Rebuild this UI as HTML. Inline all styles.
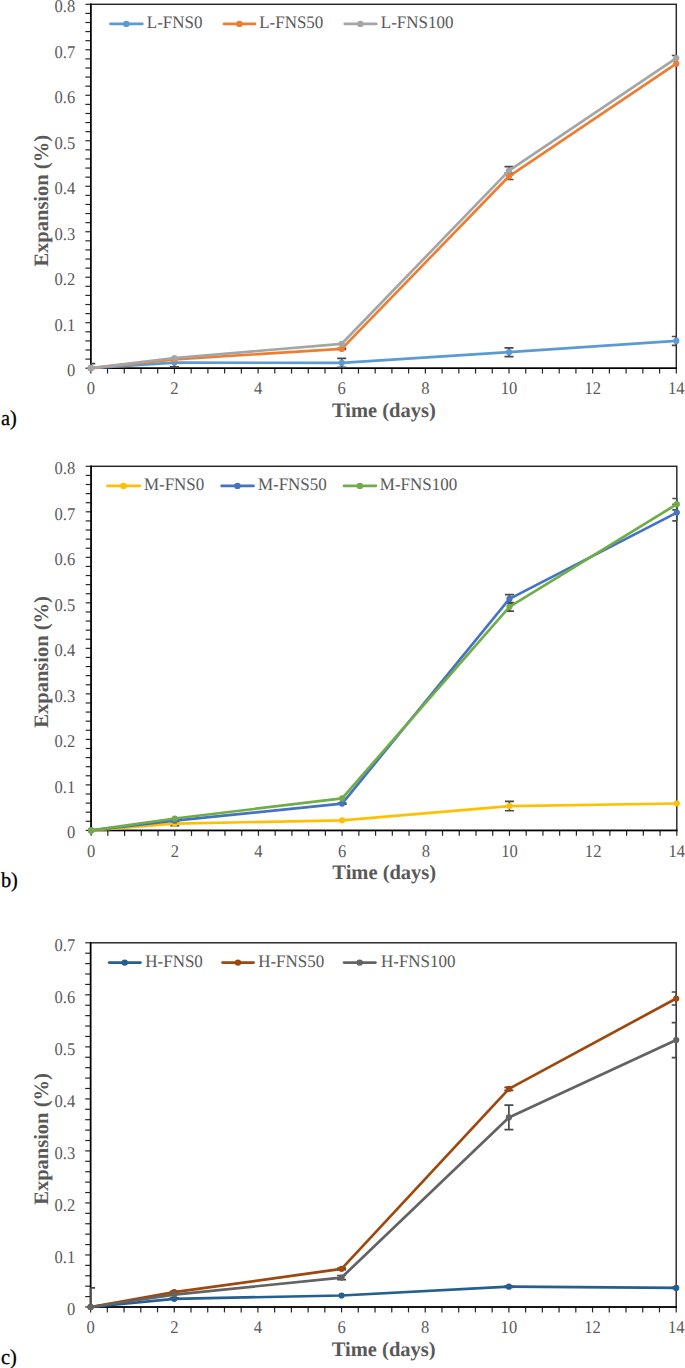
<!DOCTYPE html>
<html><head><meta charset="utf-8"><style>
html,body{margin:0;padding:0;background:#fff;}
body{width:685px;height:1368px;overflow:hidden;}
svg{display:block;font-family:"Liberation Serif", serif;text-rendering:geometricPrecision;}
</style></head><body>
<svg width="685" height="1368" viewBox="0 0 685 1368">
<rect width="685" height="1368" fill="#fff"/>
<line x1="85.4" y1="368.2" x2="90.8" y2="368.2" stroke="#262626" stroke-width="1.2"/>
<line x1="85.4" y1="359.1" x2="90.8" y2="359.1" stroke="#262626" stroke-width="1.2"/>
<line x1="85.4" y1="350" x2="90.8" y2="350" stroke="#262626" stroke-width="1.2"/>
<line x1="85.4" y1="340.91" x2="90.8" y2="340.91" stroke="#262626" stroke-width="1.2"/>
<line x1="85.4" y1="331.81" x2="90.8" y2="331.81" stroke="#262626" stroke-width="1.2"/>
<line x1="85.4" y1="322.71" x2="90.8" y2="322.71" stroke="#262626" stroke-width="1.2"/>
<line x1="85.4" y1="313.62" x2="90.8" y2="313.62" stroke="#262626" stroke-width="1.2"/>
<line x1="85.4" y1="304.52" x2="90.8" y2="304.52" stroke="#262626" stroke-width="1.2"/>
<line x1="85.4" y1="295.42" x2="90.8" y2="295.42" stroke="#262626" stroke-width="1.2"/>
<line x1="85.4" y1="286.32" x2="90.8" y2="286.32" stroke="#262626" stroke-width="1.2"/>
<line x1="85.4" y1="277.23" x2="90.8" y2="277.23" stroke="#262626" stroke-width="1.2"/>
<line x1="85.4" y1="268.13" x2="90.8" y2="268.13" stroke="#262626" stroke-width="1.2"/>
<line x1="85.4" y1="259.03" x2="90.8" y2="259.03" stroke="#262626" stroke-width="1.2"/>
<line x1="85.4" y1="249.93" x2="90.8" y2="249.93" stroke="#262626" stroke-width="1.2"/>
<line x1="85.4" y1="240.83" x2="90.8" y2="240.83" stroke="#262626" stroke-width="1.2"/>
<line x1="85.4" y1="231.74" x2="90.8" y2="231.74" stroke="#262626" stroke-width="1.2"/>
<line x1="85.4" y1="222.64" x2="90.8" y2="222.64" stroke="#262626" stroke-width="1.2"/>
<line x1="85.4" y1="213.54" x2="90.8" y2="213.54" stroke="#262626" stroke-width="1.2"/>
<line x1="85.4" y1="204.45" x2="90.8" y2="204.45" stroke="#262626" stroke-width="1.2"/>
<line x1="85.4" y1="195.35" x2="90.8" y2="195.35" stroke="#262626" stroke-width="1.2"/>
<line x1="85.4" y1="186.25" x2="90.8" y2="186.25" stroke="#262626" stroke-width="1.2"/>
<line x1="85.4" y1="177.15" x2="90.8" y2="177.15" stroke="#262626" stroke-width="1.2"/>
<line x1="85.4" y1="168.06" x2="90.8" y2="168.06" stroke="#262626" stroke-width="1.2"/>
<line x1="85.4" y1="158.96" x2="90.8" y2="158.96" stroke="#262626" stroke-width="1.2"/>
<line x1="85.4" y1="149.86" x2="90.8" y2="149.86" stroke="#262626" stroke-width="1.2"/>
<line x1="85.4" y1="140.76" x2="90.8" y2="140.76" stroke="#262626" stroke-width="1.2"/>
<line x1="85.4" y1="131.67" x2="90.8" y2="131.67" stroke="#262626" stroke-width="1.2"/>
<line x1="85.4" y1="122.57" x2="90.8" y2="122.57" stroke="#262626" stroke-width="1.2"/>
<line x1="85.4" y1="113.47" x2="90.8" y2="113.47" stroke="#262626" stroke-width="1.2"/>
<line x1="85.4" y1="104.37" x2="90.8" y2="104.37" stroke="#262626" stroke-width="1.2"/>
<line x1="85.4" y1="95.28" x2="90.8" y2="95.28" stroke="#262626" stroke-width="1.2"/>
<line x1="85.4" y1="86.18" x2="90.8" y2="86.18" stroke="#262626" stroke-width="1.2"/>
<line x1="85.4" y1="77.08" x2="90.8" y2="77.08" stroke="#262626" stroke-width="1.2"/>
<line x1="85.4" y1="67.98" x2="90.8" y2="67.98" stroke="#262626" stroke-width="1.2"/>
<line x1="85.4" y1="58.88" x2="90.8" y2="58.88" stroke="#262626" stroke-width="1.2"/>
<line x1="85.4" y1="49.79" x2="90.8" y2="49.79" stroke="#262626" stroke-width="1.2"/>
<line x1="85.4" y1="40.69" x2="90.8" y2="40.69" stroke="#262626" stroke-width="1.2"/>
<line x1="85.4" y1="31.59" x2="90.8" y2="31.59" stroke="#262626" stroke-width="1.2"/>
<line x1="85.4" y1="22.5" x2="90.8" y2="22.5" stroke="#262626" stroke-width="1.2"/>
<line x1="85.4" y1="13.4" x2="90.8" y2="13.4" stroke="#262626" stroke-width="1.2"/>
<line x1="85.4" y1="4.3" x2="90.8" y2="4.3" stroke="#262626" stroke-width="1.2"/>
<line x1="90.8" y1="368.2" x2="90.8" y2="373.6" stroke="#262626" stroke-width="1.2"/>
<line x1="107.53" y1="368.2" x2="107.53" y2="373.6" stroke="#262626" stroke-width="1.2"/>
<line x1="124.26" y1="368.2" x2="124.26" y2="373.6" stroke="#262626" stroke-width="1.2"/>
<line x1="140.99" y1="368.2" x2="140.99" y2="373.6" stroke="#262626" stroke-width="1.2"/>
<line x1="157.71" y1="368.2" x2="157.71" y2="373.6" stroke="#262626" stroke-width="1.2"/>
<line x1="174.44" y1="368.2" x2="174.44" y2="373.6" stroke="#262626" stroke-width="1.2"/>
<line x1="191.17" y1="368.2" x2="191.17" y2="373.6" stroke="#262626" stroke-width="1.2"/>
<line x1="207.9" y1="368.2" x2="207.9" y2="373.6" stroke="#262626" stroke-width="1.2"/>
<line x1="224.63" y1="368.2" x2="224.63" y2="373.6" stroke="#262626" stroke-width="1.2"/>
<line x1="241.36" y1="368.2" x2="241.36" y2="373.6" stroke="#262626" stroke-width="1.2"/>
<line x1="258.09" y1="368.2" x2="258.09" y2="373.6" stroke="#262626" stroke-width="1.2"/>
<line x1="274.81" y1="368.2" x2="274.81" y2="373.6" stroke="#262626" stroke-width="1.2"/>
<line x1="291.54" y1="368.2" x2="291.54" y2="373.6" stroke="#262626" stroke-width="1.2"/>
<line x1="308.27" y1="368.2" x2="308.27" y2="373.6" stroke="#262626" stroke-width="1.2"/>
<line x1="325" y1="368.2" x2="325" y2="373.6" stroke="#262626" stroke-width="1.2"/>
<line x1="341.73" y1="368.2" x2="341.73" y2="373.6" stroke="#262626" stroke-width="1.2"/>
<line x1="358.46" y1="368.2" x2="358.46" y2="373.6" stroke="#262626" stroke-width="1.2"/>
<line x1="375.19" y1="368.2" x2="375.19" y2="373.6" stroke="#262626" stroke-width="1.2"/>
<line x1="391.91" y1="368.2" x2="391.91" y2="373.6" stroke="#262626" stroke-width="1.2"/>
<line x1="408.64" y1="368.2" x2="408.64" y2="373.6" stroke="#262626" stroke-width="1.2"/>
<line x1="425.37" y1="368.2" x2="425.37" y2="373.6" stroke="#262626" stroke-width="1.2"/>
<line x1="442.1" y1="368.2" x2="442.1" y2="373.6" stroke="#262626" stroke-width="1.2"/>
<line x1="458.83" y1="368.2" x2="458.83" y2="373.6" stroke="#262626" stroke-width="1.2"/>
<line x1="475.56" y1="368.2" x2="475.56" y2="373.6" stroke="#262626" stroke-width="1.2"/>
<line x1="492.29" y1="368.2" x2="492.29" y2="373.6" stroke="#262626" stroke-width="1.2"/>
<line x1="509.01" y1="368.2" x2="509.01" y2="373.6" stroke="#262626" stroke-width="1.2"/>
<line x1="525.74" y1="368.2" x2="525.74" y2="373.6" stroke="#262626" stroke-width="1.2"/>
<line x1="542.47" y1="368.2" x2="542.47" y2="373.6" stroke="#262626" stroke-width="1.2"/>
<line x1="559.2" y1="368.2" x2="559.2" y2="373.6" stroke="#262626" stroke-width="1.2"/>
<line x1="575.93" y1="368.2" x2="575.93" y2="373.6" stroke="#262626" stroke-width="1.2"/>
<line x1="592.66" y1="368.2" x2="592.66" y2="373.6" stroke="#262626" stroke-width="1.2"/>
<line x1="609.39" y1="368.2" x2="609.39" y2="373.6" stroke="#262626" stroke-width="1.2"/>
<line x1="626.11" y1="368.2" x2="626.11" y2="373.6" stroke="#262626" stroke-width="1.2"/>
<line x1="642.84" y1="368.2" x2="642.84" y2="373.6" stroke="#262626" stroke-width="1.2"/>
<line x1="659.57" y1="368.2" x2="659.57" y2="373.6" stroke="#262626" stroke-width="1.2"/>
<line x1="676.3" y1="368.2" x2="676.3" y2="373.6" stroke="#262626" stroke-width="1.2"/>
<text transform="translate(75.2 376) scale(0.925 1)" text-anchor="end" font-size="17.9" fill="#595959">0</text>
<text transform="translate(75.2 330.51) scale(0.925 1)" text-anchor="end" font-size="17.9" fill="#595959">0.1</text>
<text transform="translate(75.2 285.03) scale(0.925 1)" text-anchor="end" font-size="17.9" fill="#595959">0.2</text>
<text transform="translate(75.2 239.54) scale(0.925 1)" text-anchor="end" font-size="17.9" fill="#595959">0.3</text>
<text transform="translate(75.2 194.05) scale(0.925 1)" text-anchor="end" font-size="17.9" fill="#595959">0.4</text>
<text transform="translate(75.2 148.56) scale(0.925 1)" text-anchor="end" font-size="17.9" fill="#595959">0.5</text>
<text transform="translate(75.2 103.07) scale(0.925 1)" text-anchor="end" font-size="17.9" fill="#595959">0.6</text>
<text transform="translate(75.2 57.59) scale(0.925 1)" text-anchor="end" font-size="17.9" fill="#595959">0.7</text>
<text transform="translate(75.2 12.1) scale(0.925 1)" text-anchor="end" font-size="17.9" fill="#595959">0.8</text>
<text transform="translate(90.8 394.3) scale(0.925 1)" text-anchor="middle" font-size="17.9" fill="#595959">0</text>
<text transform="translate(174.44 394.3) scale(0.925 1)" text-anchor="middle" font-size="17.9" fill="#595959">2</text>
<text transform="translate(258.09 394.3) scale(0.925 1)" text-anchor="middle" font-size="17.9" fill="#595959">4</text>
<text transform="translate(341.73 394.3) scale(0.925 1)" text-anchor="middle" font-size="17.9" fill="#595959">6</text>
<text transform="translate(425.37 394.3) scale(0.925 1)" text-anchor="middle" font-size="17.9" fill="#595959">8</text>
<text transform="translate(509.01 394.3) scale(0.925 1)" text-anchor="middle" font-size="17.9" fill="#595959">10</text>
<text transform="translate(592.66 394.3) scale(0.925 1)" text-anchor="middle" font-size="17.9" fill="#595959">12</text>
<text transform="translate(676.3 394.3) scale(0.925 1)" text-anchor="middle" font-size="17.9" fill="#595959">14</text>
<text x="383.85" y="416.8" text-anchor="middle" font-size="20.5" font-weight="bold" fill="#595959">Time (days)</text>
<text transform="translate(47.8 200.8) rotate(-90)" text-anchor="middle" font-size="20.5" font-weight="bold" fill="#595959">Expansion (%)</text>
<text transform="translate(0.9 424.8) scale(0.95 1)" font-size="21.4" fill="#000" stroke="#000" stroke-width="0.3">a)</text>
<rect x="90.8" y="4.3" width="585.5" height="363.9" fill="none" stroke="#262626" stroke-width="1.45"/>
<path d="M90.8 3.6V368.2H677" fill="none" stroke="#000" stroke-width="1.5"/>
<path d="M90.8 363.6V368.2M90.8 363.6H95.3" stroke="#4a4a4a" stroke-width="1.7" fill="none"/><path d="M174.44 358.3V366.9M169.94 358.3H178.94M169.94 366.9H178.94" stroke="#4a4a4a" stroke-width="1.7" fill="none"/><path d="M341.73 358.4V367.4M337.23 358.4H346.23M337.23 367.4H346.23" stroke="#4a4a4a" stroke-width="1.7" fill="none"/><path d="M509.01 347.8V356.6M504.51 347.8H513.51M504.51 356.6H513.51" stroke="#4a4a4a" stroke-width="1.7" fill="none"/><path d="M676.3 336.5V345.3M671.8 336.5H676.3M671.8 345.3H676.3" stroke="#4a4a4a" stroke-width="1.7" fill="none"/><path d="M509.01 166.6V174.6M504.51 166.6H513.51M504.51 174.6H513.51" stroke="#4a4a4a" stroke-width="1.7" fill="none"/><path d="M509.01 173.1V179.5M504.51 173.1H513.51M504.51 179.5H513.51" stroke="#4a4a4a" stroke-width="1.7" fill="none"/><path d="M676.3 55.5V60.7M671.8 55.5H676.3M671.8 60.7H676.3" stroke="#4a4a4a" stroke-width="1.7" fill="none"/><path d="M341.73 348.3V349.5M337.23 348.3H346.23M337.23 349.5H346.23" stroke="#4a4a4a" stroke-width="1.7" fill="none"/>
<polyline points="90.8,368.2 174.44,362.6 341.73,362.9 509.01,352.2 676.3,340.9" fill="none" stroke="#5B9BD5" stroke-width="2.7" stroke-linejoin="round" stroke-linecap="round"/><circle cx="90.8" cy="368.2" r="3.1" fill="#5B9BD5"/><circle cx="174.44" cy="362.6" r="3.1" fill="#5B9BD5"/><circle cx="341.73" cy="362.9" r="3.1" fill="#5B9BD5"/><circle cx="509.01" cy="352.2" r="3.1" fill="#5B9BD5"/><circle cx="676.3" cy="340.9" r="3.1" fill="#5B9BD5"/><polyline points="90.8,368.2 174.44,359.3 341.73,348.9 509.01,176.3 676.3,63.7" fill="none" stroke="#ED7D31" stroke-width="2.7" stroke-linejoin="round" stroke-linecap="round"/><circle cx="90.8" cy="368.2" r="3.1" fill="#ED7D31"/><circle cx="174.44" cy="359.3" r="3.1" fill="#ED7D31"/><circle cx="341.73" cy="348.9" r="3.1" fill="#ED7D31"/><circle cx="509.01" cy="176.3" r="3.1" fill="#ED7D31"/><circle cx="676.3" cy="63.7" r="3.1" fill="#ED7D31"/><polyline points="90.8,368.2 174.44,358 341.73,343.8 509.01,170.6 676.3,58.1" fill="none" stroke="#A5A5A5" stroke-width="2.7" stroke-linejoin="round" stroke-linecap="round"/><circle cx="90.8" cy="368.2" r="3.1" fill="#A5A5A5"/><circle cx="174.44" cy="358" r="3.1" fill="#A5A5A5"/><circle cx="341.73" cy="343.8" r="3.1" fill="#A5A5A5"/><circle cx="509.01" cy="170.6" r="3.1" fill="#A5A5A5"/><circle cx="676.3" cy="58.1" r="3.1" fill="#A5A5A5"/>
<line x1="110.5" y1="23.9" x2="142.3" y2="23.9" stroke="#5B9BD5" stroke-width="2.8" stroke-linecap="round"/>
<circle cx="126.3" cy="23.9" r="3.2" fill="#5B9BD5"/>
<text transform="translate(146.8 27.8) scale(0.965 1)" font-size="17.6" fill="#595959">L-FNS0</text>
<line x1="224" y1="23.9" x2="255" y2="23.9" stroke="#ED7D31" stroke-width="2.8" stroke-linecap="round"/>
<circle cx="239.4" cy="23.9" r="3.2" fill="#ED7D31"/>
<text transform="translate(259.2 27.8) scale(0.965 1)" font-size="17.6" fill="#595959">L-FNS50</text>
<line x1="344.8" y1="23.9" x2="376.2" y2="23.9" stroke="#A5A5A5" stroke-width="2.8" stroke-linecap="round"/>
<circle cx="360.4" cy="23.9" r="3.2" fill="#A5A5A5"/>
<text transform="translate(380.8 27.8) scale(0.965 1)" font-size="17.6" fill="#595959">L-FNS100</text>
<line x1="85.7" y1="830.4" x2="91.1" y2="830.4" stroke="#262626" stroke-width="1.2"/>
<line x1="85.7" y1="821.3" x2="91.1" y2="821.3" stroke="#262626" stroke-width="1.2"/>
<line x1="85.7" y1="812.19" x2="91.1" y2="812.19" stroke="#262626" stroke-width="1.2"/>
<line x1="85.7" y1="803.09" x2="91.1" y2="803.09" stroke="#262626" stroke-width="1.2"/>
<line x1="85.7" y1="793.99" x2="91.1" y2="793.99" stroke="#262626" stroke-width="1.2"/>
<line x1="85.7" y1="784.89" x2="91.1" y2="784.89" stroke="#262626" stroke-width="1.2"/>
<line x1="85.7" y1="775.78" x2="91.1" y2="775.78" stroke="#262626" stroke-width="1.2"/>
<line x1="85.7" y1="766.68" x2="91.1" y2="766.68" stroke="#262626" stroke-width="1.2"/>
<line x1="85.7" y1="757.58" x2="91.1" y2="757.58" stroke="#262626" stroke-width="1.2"/>
<line x1="85.7" y1="748.48" x2="91.1" y2="748.48" stroke="#262626" stroke-width="1.2"/>
<line x1="85.7" y1="739.38" x2="91.1" y2="739.38" stroke="#262626" stroke-width="1.2"/>
<line x1="85.7" y1="730.27" x2="91.1" y2="730.27" stroke="#262626" stroke-width="1.2"/>
<line x1="85.7" y1="721.17" x2="91.1" y2="721.17" stroke="#262626" stroke-width="1.2"/>
<line x1="85.7" y1="712.07" x2="91.1" y2="712.07" stroke="#262626" stroke-width="1.2"/>
<line x1="85.7" y1="702.96" x2="91.1" y2="702.96" stroke="#262626" stroke-width="1.2"/>
<line x1="85.7" y1="693.86" x2="91.1" y2="693.86" stroke="#262626" stroke-width="1.2"/>
<line x1="85.7" y1="684.76" x2="91.1" y2="684.76" stroke="#262626" stroke-width="1.2"/>
<line x1="85.7" y1="675.66" x2="91.1" y2="675.66" stroke="#262626" stroke-width="1.2"/>
<line x1="85.7" y1="666.56" x2="91.1" y2="666.56" stroke="#262626" stroke-width="1.2"/>
<line x1="85.7" y1="657.45" x2="91.1" y2="657.45" stroke="#262626" stroke-width="1.2"/>
<line x1="85.7" y1="648.35" x2="91.1" y2="648.35" stroke="#262626" stroke-width="1.2"/>
<line x1="85.7" y1="639.25" x2="91.1" y2="639.25" stroke="#262626" stroke-width="1.2"/>
<line x1="85.7" y1="630.14" x2="91.1" y2="630.14" stroke="#262626" stroke-width="1.2"/>
<line x1="85.7" y1="621.04" x2="91.1" y2="621.04" stroke="#262626" stroke-width="1.2"/>
<line x1="85.7" y1="611.94" x2="91.1" y2="611.94" stroke="#262626" stroke-width="1.2"/>
<line x1="85.7" y1="602.84" x2="91.1" y2="602.84" stroke="#262626" stroke-width="1.2"/>
<line x1="85.7" y1="593.74" x2="91.1" y2="593.74" stroke="#262626" stroke-width="1.2"/>
<line x1="85.7" y1="584.63" x2="91.1" y2="584.63" stroke="#262626" stroke-width="1.2"/>
<line x1="85.7" y1="575.53" x2="91.1" y2="575.53" stroke="#262626" stroke-width="1.2"/>
<line x1="85.7" y1="566.43" x2="91.1" y2="566.43" stroke="#262626" stroke-width="1.2"/>
<line x1="85.7" y1="557.33" x2="91.1" y2="557.33" stroke="#262626" stroke-width="1.2"/>
<line x1="85.7" y1="548.22" x2="91.1" y2="548.22" stroke="#262626" stroke-width="1.2"/>
<line x1="85.7" y1="539.12" x2="91.1" y2="539.12" stroke="#262626" stroke-width="1.2"/>
<line x1="85.7" y1="530.02" x2="91.1" y2="530.02" stroke="#262626" stroke-width="1.2"/>
<line x1="85.7" y1="520.91" x2="91.1" y2="520.91" stroke="#262626" stroke-width="1.2"/>
<line x1="85.7" y1="511.81" x2="91.1" y2="511.81" stroke="#262626" stroke-width="1.2"/>
<line x1="85.7" y1="502.71" x2="91.1" y2="502.71" stroke="#262626" stroke-width="1.2"/>
<line x1="85.7" y1="493.61" x2="91.1" y2="493.61" stroke="#262626" stroke-width="1.2"/>
<line x1="85.7" y1="484.5" x2="91.1" y2="484.5" stroke="#262626" stroke-width="1.2"/>
<line x1="85.7" y1="475.4" x2="91.1" y2="475.4" stroke="#262626" stroke-width="1.2"/>
<line x1="85.7" y1="466.3" x2="91.1" y2="466.3" stroke="#262626" stroke-width="1.2"/>
<line x1="91.1" y1="830.4" x2="91.1" y2="835.8" stroke="#262626" stroke-width="1.2"/>
<line x1="107.83" y1="830.4" x2="107.83" y2="835.8" stroke="#262626" stroke-width="1.2"/>
<line x1="124.57" y1="830.4" x2="124.57" y2="835.8" stroke="#262626" stroke-width="1.2"/>
<line x1="141.3" y1="830.4" x2="141.3" y2="835.8" stroke="#262626" stroke-width="1.2"/>
<line x1="158.04" y1="830.4" x2="158.04" y2="835.8" stroke="#262626" stroke-width="1.2"/>
<line x1="174.77" y1="830.4" x2="174.77" y2="835.8" stroke="#262626" stroke-width="1.2"/>
<line x1="191.51" y1="830.4" x2="191.51" y2="835.8" stroke="#262626" stroke-width="1.2"/>
<line x1="208.24" y1="830.4" x2="208.24" y2="835.8" stroke="#262626" stroke-width="1.2"/>
<line x1="224.97" y1="830.4" x2="224.97" y2="835.8" stroke="#262626" stroke-width="1.2"/>
<line x1="241.71" y1="830.4" x2="241.71" y2="835.8" stroke="#262626" stroke-width="1.2"/>
<line x1="258.44" y1="830.4" x2="258.44" y2="835.8" stroke="#262626" stroke-width="1.2"/>
<line x1="275.18" y1="830.4" x2="275.18" y2="835.8" stroke="#262626" stroke-width="1.2"/>
<line x1="291.91" y1="830.4" x2="291.91" y2="835.8" stroke="#262626" stroke-width="1.2"/>
<line x1="308.65" y1="830.4" x2="308.65" y2="835.8" stroke="#262626" stroke-width="1.2"/>
<line x1="325.38" y1="830.4" x2="325.38" y2="835.8" stroke="#262626" stroke-width="1.2"/>
<line x1="342.11" y1="830.4" x2="342.11" y2="835.8" stroke="#262626" stroke-width="1.2"/>
<line x1="358.85" y1="830.4" x2="358.85" y2="835.8" stroke="#262626" stroke-width="1.2"/>
<line x1="375.58" y1="830.4" x2="375.58" y2="835.8" stroke="#262626" stroke-width="1.2"/>
<line x1="392.32" y1="830.4" x2="392.32" y2="835.8" stroke="#262626" stroke-width="1.2"/>
<line x1="409.05" y1="830.4" x2="409.05" y2="835.8" stroke="#262626" stroke-width="1.2"/>
<line x1="425.79" y1="830.4" x2="425.79" y2="835.8" stroke="#262626" stroke-width="1.2"/>
<line x1="442.52" y1="830.4" x2="442.52" y2="835.8" stroke="#262626" stroke-width="1.2"/>
<line x1="459.25" y1="830.4" x2="459.25" y2="835.8" stroke="#262626" stroke-width="1.2"/>
<line x1="475.99" y1="830.4" x2="475.99" y2="835.8" stroke="#262626" stroke-width="1.2"/>
<line x1="492.72" y1="830.4" x2="492.72" y2="835.8" stroke="#262626" stroke-width="1.2"/>
<line x1="509.46" y1="830.4" x2="509.46" y2="835.8" stroke="#262626" stroke-width="1.2"/>
<line x1="526.19" y1="830.4" x2="526.19" y2="835.8" stroke="#262626" stroke-width="1.2"/>
<line x1="542.93" y1="830.4" x2="542.93" y2="835.8" stroke="#262626" stroke-width="1.2"/>
<line x1="559.66" y1="830.4" x2="559.66" y2="835.8" stroke="#262626" stroke-width="1.2"/>
<line x1="576.39" y1="830.4" x2="576.39" y2="835.8" stroke="#262626" stroke-width="1.2"/>
<line x1="593.13" y1="830.4" x2="593.13" y2="835.8" stroke="#262626" stroke-width="1.2"/>
<line x1="609.86" y1="830.4" x2="609.86" y2="835.8" stroke="#262626" stroke-width="1.2"/>
<line x1="626.6" y1="830.4" x2="626.6" y2="835.8" stroke="#262626" stroke-width="1.2"/>
<line x1="643.33" y1="830.4" x2="643.33" y2="835.8" stroke="#262626" stroke-width="1.2"/>
<line x1="660.07" y1="830.4" x2="660.07" y2="835.8" stroke="#262626" stroke-width="1.2"/>
<line x1="676.8" y1="830.4" x2="676.8" y2="835.8" stroke="#262626" stroke-width="1.2"/>
<text transform="translate(75.2 838.2) scale(0.925 1)" text-anchor="end" font-size="17.9" fill="#595959">0</text>
<text transform="translate(75.2 792.69) scale(0.925 1)" text-anchor="end" font-size="17.9" fill="#595959">0.1</text>
<text transform="translate(75.2 747.17) scale(0.925 1)" text-anchor="end" font-size="17.9" fill="#595959">0.2</text>
<text transform="translate(75.2 701.66) scale(0.925 1)" text-anchor="end" font-size="17.9" fill="#595959">0.3</text>
<text transform="translate(75.2 656.15) scale(0.925 1)" text-anchor="end" font-size="17.9" fill="#595959">0.4</text>
<text transform="translate(75.2 610.64) scale(0.925 1)" text-anchor="end" font-size="17.9" fill="#595959">0.5</text>
<text transform="translate(75.2 565.12) scale(0.925 1)" text-anchor="end" font-size="17.9" fill="#595959">0.6</text>
<text transform="translate(75.2 519.61) scale(0.925 1)" text-anchor="end" font-size="17.9" fill="#595959">0.7</text>
<text transform="translate(75.2 474.1) scale(0.925 1)" text-anchor="end" font-size="17.9" fill="#595959">0.8</text>
<text transform="translate(91.1 856.5) scale(0.925 1)" text-anchor="middle" font-size="17.9" fill="#595959">0</text>
<text transform="translate(174.77 856.5) scale(0.925 1)" text-anchor="middle" font-size="17.9" fill="#595959">2</text>
<text transform="translate(258.44 856.5) scale(0.925 1)" text-anchor="middle" font-size="17.9" fill="#595959">4</text>
<text transform="translate(342.11 856.5) scale(0.925 1)" text-anchor="middle" font-size="17.9" fill="#595959">6</text>
<text transform="translate(425.79 856.5) scale(0.925 1)" text-anchor="middle" font-size="17.9" fill="#595959">8</text>
<text transform="translate(509.46 856.5) scale(0.925 1)" text-anchor="middle" font-size="17.9" fill="#595959">10</text>
<text transform="translate(593.13 856.5) scale(0.925 1)" text-anchor="middle" font-size="17.9" fill="#595959">12</text>
<text transform="translate(676.8 856.5) scale(0.925 1)" text-anchor="middle" font-size="17.9" fill="#595959">14</text>
<text x="384.25" y="879" text-anchor="middle" font-size="20.5" font-weight="bold" fill="#595959">Time (days)</text>
<text transform="translate(48.3 661.9) rotate(-90)" text-anchor="middle" font-size="20.5" font-weight="bold" fill="#595959">Expansion (%)</text>
<text transform="translate(0.9 886.8) scale(0.95 1)" font-size="21.4" fill="#000" stroke="#000" stroke-width="0.3">b)</text>
<rect x="91.1" y="466.3" width="585.7" height="364.1" fill="none" stroke="#262626" stroke-width="1.45"/>
<path d="M91.1 465.6V830.4H677.5" fill="none" stroke="#000" stroke-width="1.5"/>
<path d="M174.77 821.6V825.6M170.27 821.6H179.27M170.27 825.6H179.27" stroke="#4a4a4a" stroke-width="1.7" fill="none"/><path d="M509.46 801.45V810.75M504.96 801.45H513.96M504.96 810.75H513.96" stroke="#4a4a4a" stroke-width="1.7" fill="none"/><path d="M509.46 594.7V603.1M504.96 594.7H513.96M504.96 603.1H513.96" stroke="#4a4a4a" stroke-width="1.7" fill="none"/><path d="M509.46 602.5V611.1M504.96 602.5H513.96M504.96 611.1H513.96" stroke="#4a4a4a" stroke-width="1.7" fill="none"/><path d="M676.8 498.5V509.9M672.3 498.5H676.8M672.3 509.9H676.8" stroke="#4a4a4a" stroke-width="1.7" fill="none"/><path d="M676.8 504.4V520.8M672.3 504.4H676.8M672.3 520.8H676.8" stroke="#4a4a4a" stroke-width="1.7" fill="none"/><path d="M342.11 803V804.2M337.61 803H346.61M337.61 804.2H346.61" stroke="#4a4a4a" stroke-width="1.7" fill="none"/>
<polyline points="91.1,830.4 174.77,823.6 342.11,820.3 509.46,806.1 676.8,803.5" fill="none" stroke="#FFC000" stroke-width="2.7" stroke-linejoin="round" stroke-linecap="round"/><circle cx="91.1" cy="830.4" r="3.1" fill="#FFC000"/><circle cx="174.77" cy="823.6" r="3.1" fill="#FFC000"/><circle cx="342.11" cy="820.3" r="3.1" fill="#FFC000"/><circle cx="509.46" cy="806.1" r="3.1" fill="#FFC000"/><circle cx="676.8" cy="803.5" r="3.1" fill="#FFC000"/><polyline points="91.1,830.4 174.77,820.7 342.11,803.6 509.46,598.9 676.8,512.6" fill="none" stroke="#4472C4" stroke-width="2.7" stroke-linejoin="round" stroke-linecap="round"/><circle cx="91.1" cy="830.4" r="3.1" fill="#4472C4"/><circle cx="174.77" cy="820.7" r="3.1" fill="#4472C4"/><circle cx="342.11" cy="803.6" r="3.1" fill="#4472C4"/><circle cx="509.46" cy="598.9" r="3.1" fill="#4472C4"/><circle cx="676.8" cy="512.6" r="3.1" fill="#4472C4"/><polyline points="91.1,830.4 174.77,818.5 342.11,798.4 509.46,606.8 676.8,504.2" fill="none" stroke="#70AD47" stroke-width="2.7" stroke-linejoin="round" stroke-linecap="round"/><circle cx="91.1" cy="830.4" r="3.1" fill="#70AD47"/><circle cx="174.77" cy="818.5" r="3.1" fill="#70AD47"/><circle cx="342.11" cy="798.4" r="3.1" fill="#70AD47"/><circle cx="509.46" cy="606.8" r="3.1" fill="#70AD47"/><circle cx="676.8" cy="504.2" r="3.1" fill="#70AD47"/>
<line x1="107.4" y1="485.9" x2="139.8" y2="485.9" stroke="#FFC000" stroke-width="2.8" stroke-linecap="round"/>
<circle cx="123.5" cy="485.9" r="3.2" fill="#FFC000"/>
<text transform="translate(143.9 489.8) scale(0.965 1)" font-size="17.6" fill="#595959">M-FNS0</text>
<line x1="221.7" y1="485.9" x2="253.4" y2="485.9" stroke="#4472C4" stroke-width="2.8" stroke-linecap="round"/>
<circle cx="237.45" cy="485.9" r="3.2" fill="#4472C4"/>
<text transform="translate(257.9 489.8) scale(0.965 1)" font-size="17.6" fill="#595959">M-FNS50</text>
<line x1="344.1" y1="485.9" x2="375.8" y2="485.9" stroke="#70AD47" stroke-width="2.8" stroke-linecap="round"/>
<circle cx="359.85" cy="485.9" r="3.2" fill="#70AD47"/>
<text transform="translate(379.8 489.8) scale(0.965 1)" font-size="17.6" fill="#595959">M-FNS100</text>
<line x1="85.2" y1="1307" x2="90.6" y2="1307" stroke="#262626" stroke-width="1.2"/>
<line x1="85.2" y1="1296.59" x2="90.6" y2="1296.59" stroke="#262626" stroke-width="1.2"/>
<line x1="85.2" y1="1286.19" x2="90.6" y2="1286.19" stroke="#262626" stroke-width="1.2"/>
<line x1="85.2" y1="1275.78" x2="90.6" y2="1275.78" stroke="#262626" stroke-width="1.2"/>
<line x1="85.2" y1="1265.38" x2="90.6" y2="1265.38" stroke="#262626" stroke-width="1.2"/>
<line x1="85.2" y1="1254.97" x2="90.6" y2="1254.97" stroke="#262626" stroke-width="1.2"/>
<line x1="85.2" y1="1244.57" x2="90.6" y2="1244.57" stroke="#262626" stroke-width="1.2"/>
<line x1="85.2" y1="1234.16" x2="90.6" y2="1234.16" stroke="#262626" stroke-width="1.2"/>
<line x1="85.2" y1="1223.75" x2="90.6" y2="1223.75" stroke="#262626" stroke-width="1.2"/>
<line x1="85.2" y1="1213.35" x2="90.6" y2="1213.35" stroke="#262626" stroke-width="1.2"/>
<line x1="85.2" y1="1202.94" x2="90.6" y2="1202.94" stroke="#262626" stroke-width="1.2"/>
<line x1="85.2" y1="1192.54" x2="90.6" y2="1192.54" stroke="#262626" stroke-width="1.2"/>
<line x1="85.2" y1="1182.13" x2="90.6" y2="1182.13" stroke="#262626" stroke-width="1.2"/>
<line x1="85.2" y1="1171.73" x2="90.6" y2="1171.73" stroke="#262626" stroke-width="1.2"/>
<line x1="85.2" y1="1161.32" x2="90.6" y2="1161.32" stroke="#262626" stroke-width="1.2"/>
<line x1="85.2" y1="1150.91" x2="90.6" y2="1150.91" stroke="#262626" stroke-width="1.2"/>
<line x1="85.2" y1="1140.51" x2="90.6" y2="1140.51" stroke="#262626" stroke-width="1.2"/>
<line x1="85.2" y1="1130.1" x2="90.6" y2="1130.1" stroke="#262626" stroke-width="1.2"/>
<line x1="85.2" y1="1119.7" x2="90.6" y2="1119.7" stroke="#262626" stroke-width="1.2"/>
<line x1="85.2" y1="1109.29" x2="90.6" y2="1109.29" stroke="#262626" stroke-width="1.2"/>
<line x1="85.2" y1="1098.89" x2="90.6" y2="1098.89" stroke="#262626" stroke-width="1.2"/>
<line x1="85.2" y1="1088.48" x2="90.6" y2="1088.48" stroke="#262626" stroke-width="1.2"/>
<line x1="85.2" y1="1078.07" x2="90.6" y2="1078.07" stroke="#262626" stroke-width="1.2"/>
<line x1="85.2" y1="1067.67" x2="90.6" y2="1067.67" stroke="#262626" stroke-width="1.2"/>
<line x1="85.2" y1="1057.26" x2="90.6" y2="1057.26" stroke="#262626" stroke-width="1.2"/>
<line x1="85.2" y1="1046.86" x2="90.6" y2="1046.86" stroke="#262626" stroke-width="1.2"/>
<line x1="85.2" y1="1036.45" x2="90.6" y2="1036.45" stroke="#262626" stroke-width="1.2"/>
<line x1="85.2" y1="1026.05" x2="90.6" y2="1026.05" stroke="#262626" stroke-width="1.2"/>
<line x1="85.2" y1="1015.64" x2="90.6" y2="1015.64" stroke="#262626" stroke-width="1.2"/>
<line x1="85.2" y1="1005.23" x2="90.6" y2="1005.23" stroke="#262626" stroke-width="1.2"/>
<line x1="85.2" y1="994.83" x2="90.6" y2="994.83" stroke="#262626" stroke-width="1.2"/>
<line x1="85.2" y1="984.42" x2="90.6" y2="984.42" stroke="#262626" stroke-width="1.2"/>
<line x1="85.2" y1="974.02" x2="90.6" y2="974.02" stroke="#262626" stroke-width="1.2"/>
<line x1="85.2" y1="963.61" x2="90.6" y2="963.61" stroke="#262626" stroke-width="1.2"/>
<line x1="85.2" y1="953.21" x2="90.6" y2="953.21" stroke="#262626" stroke-width="1.2"/>
<line x1="85.2" y1="942.8" x2="90.6" y2="942.8" stroke="#262626" stroke-width="1.2"/>
<line x1="90.6" y1="1307" x2="90.6" y2="1312.4" stroke="#262626" stroke-width="1.2"/>
<line x1="107.33" y1="1307" x2="107.33" y2="1312.4" stroke="#262626" stroke-width="1.2"/>
<line x1="124.06" y1="1307" x2="124.06" y2="1312.4" stroke="#262626" stroke-width="1.2"/>
<line x1="140.79" y1="1307" x2="140.79" y2="1312.4" stroke="#262626" stroke-width="1.2"/>
<line x1="157.53" y1="1307" x2="157.53" y2="1312.4" stroke="#262626" stroke-width="1.2"/>
<line x1="174.26" y1="1307" x2="174.26" y2="1312.4" stroke="#262626" stroke-width="1.2"/>
<line x1="190.99" y1="1307" x2="190.99" y2="1312.4" stroke="#262626" stroke-width="1.2"/>
<line x1="207.72" y1="1307" x2="207.72" y2="1312.4" stroke="#262626" stroke-width="1.2"/>
<line x1="224.45" y1="1307" x2="224.45" y2="1312.4" stroke="#262626" stroke-width="1.2"/>
<line x1="241.18" y1="1307" x2="241.18" y2="1312.4" stroke="#262626" stroke-width="1.2"/>
<line x1="257.91" y1="1307" x2="257.91" y2="1312.4" stroke="#262626" stroke-width="1.2"/>
<line x1="274.65" y1="1307" x2="274.65" y2="1312.4" stroke="#262626" stroke-width="1.2"/>
<line x1="291.38" y1="1307" x2="291.38" y2="1312.4" stroke="#262626" stroke-width="1.2"/>
<line x1="308.11" y1="1307" x2="308.11" y2="1312.4" stroke="#262626" stroke-width="1.2"/>
<line x1="324.84" y1="1307" x2="324.84" y2="1312.4" stroke="#262626" stroke-width="1.2"/>
<line x1="341.57" y1="1307" x2="341.57" y2="1312.4" stroke="#262626" stroke-width="1.2"/>
<line x1="358.3" y1="1307" x2="358.3" y2="1312.4" stroke="#262626" stroke-width="1.2"/>
<line x1="375.03" y1="1307" x2="375.03" y2="1312.4" stroke="#262626" stroke-width="1.2"/>
<line x1="391.77" y1="1307" x2="391.77" y2="1312.4" stroke="#262626" stroke-width="1.2"/>
<line x1="408.5" y1="1307" x2="408.5" y2="1312.4" stroke="#262626" stroke-width="1.2"/>
<line x1="425.23" y1="1307" x2="425.23" y2="1312.4" stroke="#262626" stroke-width="1.2"/>
<line x1="441.96" y1="1307" x2="441.96" y2="1312.4" stroke="#262626" stroke-width="1.2"/>
<line x1="458.69" y1="1307" x2="458.69" y2="1312.4" stroke="#262626" stroke-width="1.2"/>
<line x1="475.42" y1="1307" x2="475.42" y2="1312.4" stroke="#262626" stroke-width="1.2"/>
<line x1="492.15" y1="1307" x2="492.15" y2="1312.4" stroke="#262626" stroke-width="1.2"/>
<line x1="508.89" y1="1307" x2="508.89" y2="1312.4" stroke="#262626" stroke-width="1.2"/>
<line x1="525.62" y1="1307" x2="525.62" y2="1312.4" stroke="#262626" stroke-width="1.2"/>
<line x1="542.35" y1="1307" x2="542.35" y2="1312.4" stroke="#262626" stroke-width="1.2"/>
<line x1="559.08" y1="1307" x2="559.08" y2="1312.4" stroke="#262626" stroke-width="1.2"/>
<line x1="575.81" y1="1307" x2="575.81" y2="1312.4" stroke="#262626" stroke-width="1.2"/>
<line x1="592.54" y1="1307" x2="592.54" y2="1312.4" stroke="#262626" stroke-width="1.2"/>
<line x1="609.27" y1="1307" x2="609.27" y2="1312.4" stroke="#262626" stroke-width="1.2"/>
<line x1="626.01" y1="1307" x2="626.01" y2="1312.4" stroke="#262626" stroke-width="1.2"/>
<line x1="642.74" y1="1307" x2="642.74" y2="1312.4" stroke="#262626" stroke-width="1.2"/>
<line x1="659.47" y1="1307" x2="659.47" y2="1312.4" stroke="#262626" stroke-width="1.2"/>
<line x1="676.2" y1="1307" x2="676.2" y2="1312.4" stroke="#262626" stroke-width="1.2"/>
<text transform="translate(75.2 1314.8) scale(0.925 1)" text-anchor="end" font-size="17.9" fill="#595959">0</text>
<text transform="translate(75.2 1262.77) scale(0.925 1)" text-anchor="end" font-size="17.9" fill="#595959">0.1</text>
<text transform="translate(75.2 1210.74) scale(0.925 1)" text-anchor="end" font-size="17.9" fill="#595959">0.2</text>
<text transform="translate(75.2 1158.71) scale(0.925 1)" text-anchor="end" font-size="17.9" fill="#595959">0.3</text>
<text transform="translate(75.2 1106.69) scale(0.925 1)" text-anchor="end" font-size="17.9" fill="#595959">0.4</text>
<text transform="translate(75.2 1054.66) scale(0.925 1)" text-anchor="end" font-size="17.9" fill="#595959">0.5</text>
<text transform="translate(75.2 1002.63) scale(0.925 1)" text-anchor="end" font-size="17.9" fill="#595959">0.6</text>
<text transform="translate(75.2 950.6) scale(0.925 1)" text-anchor="end" font-size="17.9" fill="#595959">0.7</text>
<text transform="translate(90.6 1333.1) scale(0.925 1)" text-anchor="middle" font-size="17.9" fill="#595959">0</text>
<text transform="translate(174.26 1333.1) scale(0.925 1)" text-anchor="middle" font-size="17.9" fill="#595959">2</text>
<text transform="translate(257.91 1333.1) scale(0.925 1)" text-anchor="middle" font-size="17.9" fill="#595959">4</text>
<text transform="translate(341.57 1333.1) scale(0.925 1)" text-anchor="middle" font-size="17.9" fill="#595959">6</text>
<text transform="translate(425.23 1333.1) scale(0.925 1)" text-anchor="middle" font-size="17.9" fill="#595959">8</text>
<text transform="translate(508.89 1333.1) scale(0.925 1)" text-anchor="middle" font-size="17.9" fill="#595959">10</text>
<text transform="translate(592.54 1333.1) scale(0.925 1)" text-anchor="middle" font-size="17.9" fill="#595959">12</text>
<text transform="translate(676.2 1333.1) scale(0.925 1)" text-anchor="middle" font-size="17.9" fill="#595959">14</text>
<text x="383.7" y="1355.6" text-anchor="middle" font-size="20.5" font-weight="bold" fill="#595959">Time (days)</text>
<text transform="translate(47.9 1139) rotate(-90)" text-anchor="middle" font-size="20.5" font-weight="bold" fill="#595959">Expansion (%)</text>
<text transform="translate(0.9 1363.5) scale(0.95 1)" font-size="21.4" fill="#000" stroke="#000" stroke-width="0.3">c)</text>
<rect x="90.6" y="942.8" width="585.6" height="364.2" fill="none" stroke="#262626" stroke-width="1.45"/>
<path d="M90.6 942.1V1307H676.9" fill="none" stroke="#000" stroke-width="1.5"/>
<path d="M90.6 1287.8V1307M90.6 1287.8H95.1" stroke="#4a4a4a" stroke-width="1.7" fill="none"/><path d="M174.26 1291.4V1297.8M169.76 1291.4H178.76M169.76 1297.8H178.76" stroke="#4a4a4a" stroke-width="1.7" fill="none"/><path d="M341.57 1275.5V1279.7M337.07 1275.5H346.07M337.07 1279.7H346.07" stroke="#4a4a4a" stroke-width="1.7" fill="none"/><path d="M341.57 1268V1269.6M337.07 1268H346.07M337.07 1269.6H346.07" stroke="#4a4a4a" stroke-width="1.7" fill="none"/><path d="M508.89 1105.15V1129.65M504.39 1105.15H513.39M504.39 1129.65H513.39" stroke="#4a4a4a" stroke-width="1.7" fill="none"/><path d="M676.2 1022.6V1057.6M671.7 1022.6H676.2M671.7 1057.6H676.2" stroke="#4a4a4a" stroke-width="1.7" fill="none"/><path d="M676.2 992V1005M671.7 992H676.2M671.7 1005H676.2" stroke="#4a4a4a" stroke-width="1.7" fill="none"/><path d="M508.89 1087.4V1090.4M504.39 1087.4H513.39M504.39 1090.4H513.39" stroke="#4a4a4a" stroke-width="1.7" fill="none"/><path d="M676.2 1287.3V1288.5M671.7 1287.3H676.2M671.7 1288.5H676.2" stroke="#4a4a4a" stroke-width="1.7" fill="none"/><path d="M508.89 1286.1V1287.3M504.39 1286.1H513.39M504.39 1287.3H513.39" stroke="#4a4a4a" stroke-width="1.7" fill="none"/>
<polyline points="90.6,1307 174.26,1298.8 341.57,1295.5 508.89,1286.7 676.2,1287.9" fill="none" stroke="#255E91" stroke-width="2.7" stroke-linejoin="round" stroke-linecap="round"/><circle cx="90.6" cy="1307" r="3.1" fill="#255E91"/><circle cx="174.26" cy="1298.8" r="3.1" fill="#255E91"/><circle cx="341.57" cy="1295.5" r="3.1" fill="#255E91"/><circle cx="508.89" cy="1286.7" r="3.1" fill="#255E91"/><circle cx="676.2" cy="1287.9" r="3.1" fill="#255E91"/><polyline points="90.6,1307 174.26,1292.2 341.57,1268.8 508.89,1088.9 676.2,998.5" fill="none" stroke="#9E480E" stroke-width="2.7" stroke-linejoin="round" stroke-linecap="round"/><circle cx="90.6" cy="1307" r="3.1" fill="#9E480E"/><circle cx="174.26" cy="1292.2" r="3.1" fill="#9E480E"/><circle cx="341.57" cy="1268.8" r="3.1" fill="#9E480E"/><circle cx="508.89" cy="1088.9" r="3.1" fill="#9E480E"/><circle cx="676.2" cy="998.5" r="3.1" fill="#9E480E"/><polyline points="90.6,1307 174.26,1294.6 341.57,1277.6 508.89,1117.4 676.2,1040.1" fill="none" stroke="#636363" stroke-width="2.7" stroke-linejoin="round" stroke-linecap="round"/><circle cx="90.6" cy="1307" r="3.1" fill="#636363"/><circle cx="174.26" cy="1294.6" r="3.1" fill="#636363"/><circle cx="341.57" cy="1277.6" r="3.1" fill="#636363"/><circle cx="508.89" cy="1117.4" r="3.1" fill="#636363"/><circle cx="676.2" cy="1040.1" r="3.1" fill="#636363"/>
<line x1="109.2" y1="962.6" x2="140.4" y2="962.6" stroke="#255E91" stroke-width="2.8" stroke-linecap="round"/>
<circle cx="124.7" cy="962.6" r="3.2" fill="#255E91"/>
<text transform="translate(145.3 966.5) scale(0.965 1)" font-size="17.6" fill="#595959">H-FNS0</text>
<line x1="222.6" y1="962.6" x2="253.5" y2="962.6" stroke="#9E480E" stroke-width="2.8" stroke-linecap="round"/>
<circle cx="237.95" cy="962.6" r="3.2" fill="#9E480E"/>
<text transform="translate(258.2 966.5) scale(0.965 1)" font-size="17.6" fill="#595959">H-FNS50</text>
<line x1="344.1" y1="962.6" x2="375.4" y2="962.6" stroke="#636363" stroke-width="2.8" stroke-linecap="round"/>
<circle cx="359.65" cy="962.6" r="3.2" fill="#636363"/>
<text transform="translate(381 966.5) scale(0.965 1)" font-size="17.6" fill="#595959">H-FNS100</text>
</svg>
</body></html>
